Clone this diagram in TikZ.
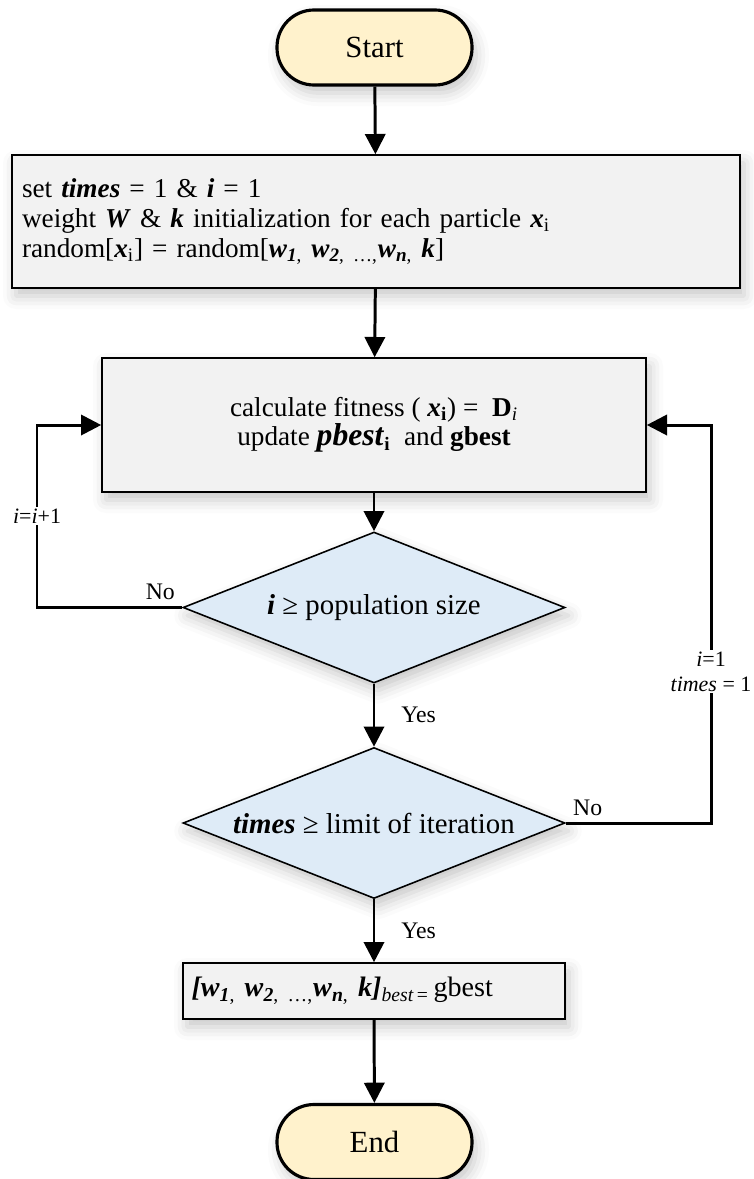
\documentclass[tikz,border=0pt]{standalone}
\usepackage{fontspec}
\setmainfont{Liberation Serif}
\usetikzlibrary{shapes.geometric,arrows.meta,shadows.blur}
\definecolor{termfill}{HTML}{FFF2CC}
\definecolor{boxfill}{HTML}{F2F2F2}
\definecolor{askfill}{HTML}{DEEBF7}
\newcommand{\bi}[1]{\textbf{\textit{#1}}}

\begin{document}
\begin{tikzpicture}[
  softshadow/.style={blur shadow={shadow xshift=0.08cm, shadow yshift=-0.16cm, shadow blur radius=0.26cm, shadow opacity=22}},
  terminal/.style={draw, line width=1.8pt, fill=termfill, rounded corners=0.74cm, minimum width=3.9cm, minimum height=1.5cm, font=\fontsize{17.5}{21}\selectfont, softshadow},
  procbox/.style={draw, line width=0.9pt, fill=boxfill, font=\fontsize{15.5}{17}\selectfont, softshadow},
  decision/.style={diamond, draw, line width=0.9pt, fill=askfill, minimum width=7.64cm, minimum height=3.02cm, aspect=2.53, inner sep=0pt, font=\fontsize{16.4}{19}\selectfont, softshadow},
  flow/.style={-{Triangle[width=11.5pt,length=11.5pt]}, line width=1.7pt},
  lbl/.style={font=\fontsize{13.5}{15}\selectfont},
  small/.style={font=\fontsize{12.5}{14}\selectfont, fill=white, inner sep=1pt, align=center}
]
\useasboundingbox (0,0) rectangle (15.06,-23.58);

\node[terminal] (start) at (7.49,-0.95) {Start};
\node[procbox, minimum width=14.56cm, minimum height=2.66cm, text width=14.16cm, align=left] (init) at (7.52,-4.43)
  {set \bi{times} = 1 \& \bi{i} = 1\\
   weight \bi{W} \& \bi{k} initialization for each particle \bi{x}\textsubscript{i}\\
   random[\bi{x}\textsubscript{i}] = random[\bi{w}\textsubscript{\bi{1},} \bi{w}\textsubscript{\bi{2}, …,}\bi{w}\textsubscript{\bi{n},} \bi{k}]};
\node[procbox, minimum width=10.88cm, minimum height=2.68cm, align=center, font=\fontsize{15.5}{15.5}\selectfont] (fit) at (7.48,-8.5)
  {calculate fitness ( \bi{x}\textsubscript{\textbf{i}}) = ~\textbf{D}\textsubscript{\textit{i}}\\
   update {\fontsize{18}{18}\selectfont\bi{pbest}}\textsubscript{\textbf{i}} ~and \textbf{gbest}};
\node[decision] (popq) at (7.48,-12.15) {\bi{i} ≥ population size};
\node[decision] (iterq) at (7.48,-16.46) {\bi{times} ≥ limit of iteration};
\node[procbox, minimum width=7.64cm, minimum height=1.12cm, text width=7.3cm, align=left, font=\fontsize{16}{18}\selectfont] (result) at (7.48,-19.82)
  {\bi{[w}\textsubscript{\bi{1},} \bi{w}\textsubscript{\bi{2}, …,}\bi{w}\textsubscript{\bi{n},} \bi{k]}\textsubscript{\textit{best}\,=}\,gbest};
\node[terminal] (finish) at (7.49,-22.84) {End};

\coordinate (lcorner) at (0.74,-12.15);
\coordinate (rcorner) at (14.22,-16.46);

\draw[flow] (start) -- (init);
\draw[flow] (init) -- (fit);
\draw[flow] (fit) -- (popq);
\draw[flow] (popq) -- node[lbl, right=0.4cm] {Yes} (iterq);
\draw[flow] (iterq) -- node[lbl, right=0.4cm] {Yes} (result);
\draw[flow] (result) -- (finish);

% loops back to fitness box
\draw[flow] (popq.west) -- node[lbl, pos=0, above left] {No} (lcorner)
  -- node[small] {\textit{i}=\textit{i}+1} (lcorner |- fit.west) -- (fit.west);
\draw[flow] (iterq.east) -- node[lbl, pos=0, above right] {No} (rcorner)
  -- node[small, pos=0.38] {\textit{i}=1\\\textit{times} = 1} (rcorner |- fit.east) -- (fit.east);
\end{tikzpicture}
\end{document}
